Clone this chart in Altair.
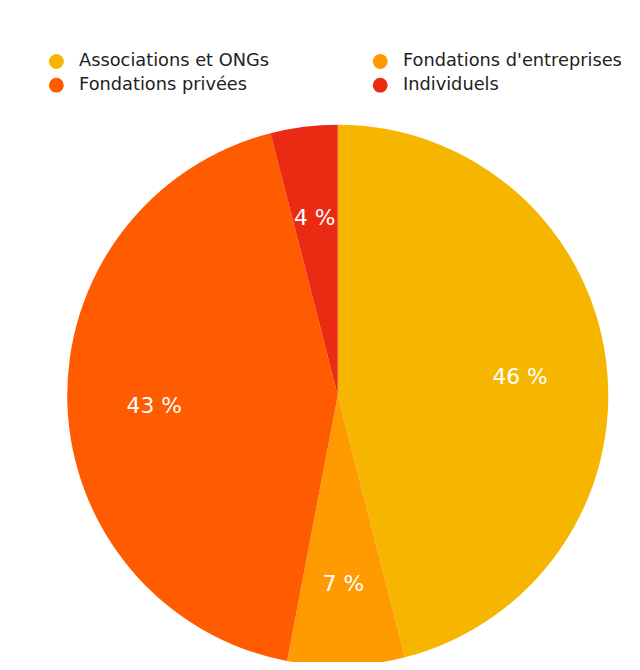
import altair as alt
import pandas as pd

categories = ["Associations et ONGs", "Fondations d'entreprises", "Fondations privées", "Individuels"]
values = [46, 7, 43, 4]
labels = ["46 %", "7 %", "43 %", "4 %"]
colors = ["#F6B600", "#FF9A00", "#FF5B00", "#EA2A12"]

df = pd.DataFrame({
    "cat": categories,
    "value": values,
    "label": labels,
    "idx": list(range(len(categories))),
})

base = alt.Chart(df).encode(
    theta=alt.Theta("value:Q", stack=True),
    order=alt.Order("idx:Q"),
    x=alt.value(334),
    y=alt.value(388),
)

pie = base.mark_arc(outerRadius=274).encode(
    color=alt.Color(
        "cat:N",
        scale=alt.Scale(domain=categories, range=colors),
        legend=alt.Legend(
            title=None,
            orient="none",
            legendX=40,
            legendY=41,
            direction="horizontal",
            columns=2,
            symbolType="circle",
            symbolSize=225,
            symbolStrokeWidth=0,
            labelFont="DejaVu Sans",
            labelFontSize=18,
            labelColor="#222222",
            labelOffset=14,
            labelLimit=400,
            rowPadding=6,
            columnPadding=103,
            padding=0,
        ),
    )
)

text = base.mark_text(radius=186, dy=5, font="DejaVu Sans", fontSize=22, fill="white").encode(
    text="label:N"
)

chart = alt.layer(pie, text).properties(
    width=632,
    height=654,
    padding=0,
    autosize=alt.AutoSizeParams(type="none"),
).configure_view(stroke=None)

chart.save("out.html", embed_options={"renderer": "svg", "actions": False})
